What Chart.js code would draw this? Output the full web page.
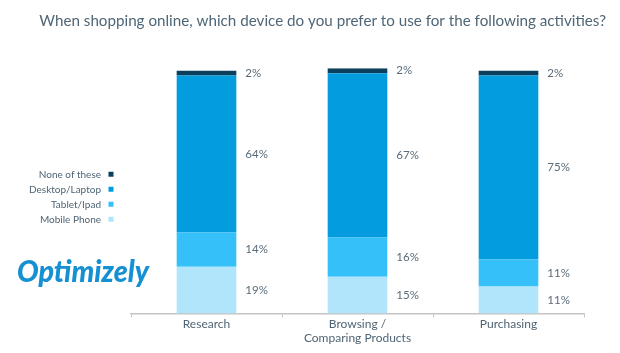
<!DOCTYPE html>
<html>
<head>
<meta charset="utf-8">
<script src="https://cdn.jsdelivr.net/npm/chart.js@4/dist/chart.umd.min.js"></script>
<style>
html,body{margin:0;padding:0;background:#fff;}
#wrap{width:620px;height:353px;position:relative;}
</style>
</head>
<body>
<div id="wrap"><canvas id="c" width="620" height="353"></canvas></div>
<script>
const categories = ['Research', ['Browsing /', 'Comparing Products'], 'Purchasing'];
const seriesNames = ['Mobile Phone', 'Tablet/Ipad', 'Desktop/Laptop', 'None of these'];
const mobilePhone = [19, 15, 11];
const tabletIpad = [14, 16, 11];
const desktopLaptop = [64, 67, 75];
const noneOfThese = [2, 2, 2];
const titleText = 'When shopping online, which device do you prefer to use for the following activities?';
const logoText = 'Optimizely';

const colors = ['#b0e5fb', '#35c0fa', '#039ddf', '#0b3f5e'];
const textColor = '#4f6474';
const FONT = 'Lato, "Open Sans", sans-serif';

const valueLabels = {
  id: 'valueLabels',
  afterDatasetsDraw(chart) {
    const ctx = chart.ctx;
    ctx.save();
    ctx.font = '11.5px ' + FONT;
    ctx.fillStyle = '#5b6b78';
    ctx.textAlign = 'left';
    ctx.textBaseline = 'middle';
    chart.data.datasets.forEach((ds, i) => {
      const meta = chart.getDatasetMeta(i);
      meta.data.forEach((bar, j) => {
        const p = bar.getProps(['x', 'y', 'base', 'width'], true);
        ctx.fillText(ds.data[j] + '%', p.x + p.width / 2 + 9, (p.y + p.base) / 2);
      });
    });
    ctx.restore();
  }
};

const logo = {
  id: 'logo',
  afterDraw(chart) {
    const ctx = chart.ctx;
    ctx.save();
    ctx.font = 'italic 900 30px Lato, "Liberation Sans", Arial, sans-serif';
    ctx.fillStyle = '#1590d2';
    ctx.textAlign = 'left';
    ctx.textBaseline = 'alphabetic';
    ctx.fillText(logoText, 17, 282, 132);
    ctx.restore();
  }
};

const datasets = [mobilePhone, tabletIpad, desktopLaptop, noneOfThese].map((d, i) => ({
  label: seriesNames[i],
  data: d,
  backgroundColor: colors[i],
  borderWidth: 0,
  categoryPercentage: 1,
  barPercentage: 0.395
}));

new Chart(document.getElementById('c'), {
  type: 'bar',
  data: { labels: categories, datasets },
  options: {
    responsive: false,
    devicePixelRatio: 1,
    animation: false,
    layout: { padding: { left: 24, right: 14, top: 0, bottom: 8 } },
    plugins: {
      title: {
        display: true,
        text: titleText,
        align: 'end',
        color: '#4f6676',
        font: { family: FONT, size: 15.2, weight: 'normal' },
        padding: { top: 12, bottom: 38 }
      },
      legend: {
        position: 'left',
        fullSize: false,
        reverse: true,
        rtl: true,
        align: 'center',
        title: { display: true, text: ' ', padding: 0, font: { size: 10, lineHeight: 1.2 } },
        labels: {
          usePointStyle: true,
          pointStyle: 'rect',
          boxWidth: 10,
          boxHeight: 5,
          padding: 5,
          color: textColor,
          font: { family: FONT, size: 10 }
        }
      },
      tooltip: { enabled: false }
    },
    scales: {
      x: {
        stacked: true,
        offset: true,
        grid: { offset: true, drawOnChartArea: false, drawTicks: true, tickLength: 4, color: '#c4c4c4' },
        border: { display: true, color: '#c4c4c4', width: 1.5 },
        ticks: { color: textColor, font: { family: FONT, size: 12, lineHeight: 1.15 }, padding: 0, maxRotation: 0 }
      },
      y: {
        stacked: true,
        min: 0,
        max: 100,
        display: true,
        grid: { display: false, drawTicks: false },
        border: { display: false },
        ticks: { display: false },
        afterFit: s => { s.width = 10; }
      },
      y2: {
        position: 'right',
        display: true,
        grid: { display: false, drawTicks: false },
        border: { display: false },
        ticks: { display: false },
        afterFit: s => { s.width = 22; }
      }
    }
  },
  plugins: [valueLabels, logo]
});
</script>
</body>
</html>
